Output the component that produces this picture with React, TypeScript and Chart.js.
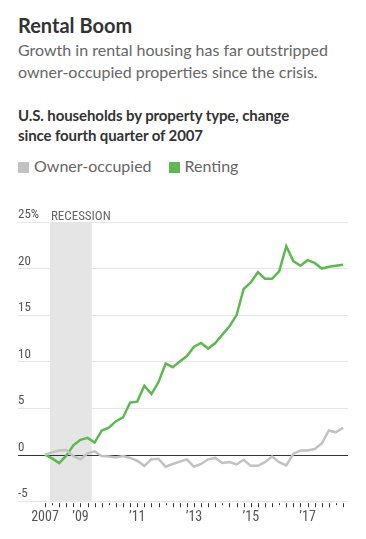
import React, { useEffect, useRef } from "react";
import { Chart, registerables } from "chart.js";

Chart.register(...registerables);

// Quarterly data, 2007 Q4 .. 2018 Q2 (index 0 = 2007 Q4)
const QUARTERS: string[] = [
  "2007Q4",
  "2008Q1", "2008Q2", "2008Q3", "2008Q4",
  "2009Q1", "2009Q2", "2009Q3", "2009Q4",
  "2010Q1", "2010Q2", "2010Q3", "2010Q4",
  "2011Q1", "2011Q2", "2011Q3", "2011Q4",
  "2012Q1", "2012Q2", "2012Q3", "2012Q4",
  "2013Q1", "2013Q2", "2013Q3", "2013Q4",
  "2014Q1", "2014Q2", "2014Q3", "2014Q4",
  "2015Q1", "2015Q2", "2015Q3", "2015Q4",
  "2016Q1", "2016Q2", "2016Q3", "2016Q4",
  "2017Q1", "2017Q2", "2017Q3", "2017Q4",
  "2018Q1", "2018Q2",
];

const RENTING: number[] = [
  0, -0.4, -0.9, -0.1, 1.0, 1.6, 1.8, 1.3, 2.6, 2.9, 3.6, 4.0, 5.6, 5.7,
  7.4, 6.5, 7.8, 9.8, 9.4, 10.0, 10.6, 11.6, 12.0, 11.4, 12.0, 12.9, 13.8,
  15.0, 17.8, 18.5, 19.6, 18.9, 18.9, 19.7, 22.4, 20.8, 20.3, 20.9, 20.6,
  20.0, 20.2, 20.3, 20.4,
];

const OWNER: number[] = [
  0, 0.25, 0.45, 0.5, -0.15, -0.5, 0.15, 0.35, -0.15, -0.2, -0.3, -0.15,
  -0.35, -0.65, -1.2, -0.5, -0.45, -1.3, -1.0, -0.75, -0.5, -1.3, -1.0, -0.5,
  -0.35, -0.9, -0.8, -1.05, -0.55, -1.2, -1.2, -0.8, -0.2, -0.8, -1.15, 0.1,
  0.45, 0.45, 0.6, 1.2, 2.6, 2.4, 2.9,
];

// X tick labels (quarter index -> text)
const X_LABEL_INDEX: number[] = [0, 5, 13, 21, 29, 37];
const X_LABEL_TEXT: string[] = ["2007", "\u201909", "\u201911", "\u201913", "\u201915", "\u201917"];

const Y_TICKS: number[] = [-5, 0, 5, 10, 15, 20, 25];

// Recession Dec 2007 - Jun 2009, in quarter-index units
const RECESSION_START = 0.7;
const RECESSION_END = 6.6;

const GREEN = "#5cb94f";
const GREY = "#c2c2c2";
const NARROW = "'Liberation Sans Narrow', 'Roboto Condensed', 'Arial Narrow', sans-serif";
const SANS = "Lato, 'Noto Sans', sans-serif";

const overlayPlugin = {
  id: "overlay",
  beforeDatasetsDraw(chart: any) {
    const { ctx, chartArea, scales } = chart;
    const x = scales.x;
    const y = scales.y;
    ctx.save();
    // recession shading
    const x0 = x.getPixelForValue(RECESSION_START);
    const x1 = x.getPixelForValue(RECESSION_END);
    ctx.fillStyle = "#e5e5e5";
    ctx.fillRect(x0, chartArea.top, x1 - x0, chartArea.bottom - chartArea.top);
    // label
    ctx.fillStyle = "#666";
    ctx.font = `13px ${NARROW}`;
    ctx.textAlign = "left";
    ctx.textBaseline = "alphabetic";
    ctx.fillText("RECESSION", x0 + 1, chartArea.top - 2);
    // zero line
    const y0 = Math.round(y.getPixelForValue(0)) + 0.5;
    ctx.strokeStyle = "#333";
    ctx.lineWidth = 1;
    ctx.beginPath();
    ctx.moveTo(chartArea.left, y0);
    ctx.lineTo(chartArea.right, y0);
    ctx.stroke();
    ctx.restore();
  },
  afterDraw(chart: any) {
    const { ctx, chartArea, scales } = chart;
    const x = scales.x;
    ctx.save();
    ctx.strokeStyle = "#333";
    ctx.lineWidth = 1;
    for (let i = 0; i < QUARTERS.length; i++) {
      const px = Math.round(x.getPixelForValue(i)) + 0.5;
      const short = i % 8 === 1;
      ctx.beginPath();
      ctx.moveTo(px, chartArea.bottom + 2);
      ctx.lineTo(px, chartArea.bottom + (short ? 4 : 6));
      ctx.stroke();
    }
    ctx.restore();
  },
};

function ChartCanvas() {
  const ref = useRef<HTMLCanvasElement | null>(null);
  useEffect(() => {
    if (!ref.current) return;
    const chart = new Chart(ref.current, {
      type: "line",
      data: {
        datasets: [
          {
            label: "Owner-occupied",
            data: OWNER.map((v, i) => ({ x: i, y: v })),
            borderColor: GREY,
            borderWidth: 2.5,
            pointRadius: 0,
            tension: 0,
          },
          {
            label: "Renting",
            data: RENTING.map((v, i) => ({ x: i, y: v })),
            borderColor: GREEN,
            borderWidth: 2.5,
            pointRadius: 0,
            tension: 0,
          },
        ],
      },
      options: {
        animation: false,
        responsive: false,
        maintainAspectRatio: false,
        layout: { padding: { left: 10, right: 10, top: 32, bottom: 0 } },
        plugins: {
          legend: { display: false },
          tooltip: { enabled: false },
          title: { display: false },
        },
        scales: {
          x: {
            type: "linear",
            min: -3.8,
            max: 42.7,
            grid: { display: false },
            border: { display: false },
            afterBuildTicks: (axis: any) => {
              axis.ticks = X_LABEL_INDEX.map((v) => ({ value: v }));
            },
            ticks: {
              autoSkip: false,
              maxRotation: 0,
              padding: 0,
              color: "#555",
              font: { family: NARROW, size: 14 },
              callback: (value: any) => {
                const k = X_LABEL_INDEX.indexOf(Number(value));
                return k >= 0 ? X_LABEL_TEXT[k] : "";
              },
            },
          },
          y: {
            min: -5,
            max: 25,
            afterBuildTicks: (axis: any) => {
              axis.ticks = Y_TICKS.map((v) => ({ value: v }));
            },
            grid: {
              drawTicks: false,
              color: (c: any) => (c.tick && c.tick.value === 0 ? "rgba(0,0,0,0)" : "#e6e6e6"),
              lineWidth: 1,
            },
            border: { display: false },
            ticks: {
              mirror: true,
              padding: 0,
              labelOffset: -7,
              color: "#555",
              font: { family: NARROW, size: 13 },
              callback: (value: any) => (Number(value) === 25 ? "25%" : String(value)),
            },
          },
        },
      },
      plugins: [overlayPlugin],
    });
    return () => chart.destroy();
  }, []);
  return (
    <canvas
      ref={ref}
      width={350}
      height={336}
      style={{ position: "absolute", left: 0, top: 182, width: 350, height: 336 }}
    />
  );
}

export default function App() {
  const text = (
    top: number,
    size: number,
    weight: number,
    color: string,
    lh: number,
    content: React.ReactNode,
    ls = 0
  ) => (
    <div
      style={{
        position: "absolute",
        left: 10,
        top,
        fontFamily: SANS,
        fontSize: size,
        fontWeight: weight,
        color,
        lineHeight: `${lh}px`,
        letterSpacing: ls ? `${ls}px` : undefined,
        whiteSpace: "nowrap",
      }}
    >
      {content}
    </div>
  );
  const sq = (c: string) => (
    <span
      style={{
        display: "inline-block",
        width: 11,
        height: 11,
        background: c,
        marginRight: 5,
        verticalAlign: "-1px",
      }}
    />
  );
  return (
    <div style={{ position: "relative", width: 350, height: 531 }}>
      {text(5, 20, 700, "#333", 24, "Rental Boom")}
      {text(
        31,
        16,
        400,
        "#666",
        22,
        <>
          Growth in rental housing has far outstripped
          <br />
          owner-occupied properties since the crisis.
        </>
      )}
      {text(
        97,
        15,
        700,
        "#333",
        20,
        <>
          U.S. households by property type, change
          <br />
          since fourth quarter of 2007
        </>,
        -0.1
      )}
      {text(
        148,
        16,
        400,
        "#666",
        20,
        <>
          <span>{sq(GREY)}Owner-occupied</span>
          <span style={{ marginLeft: 17 }}>{sq(GREEN)}Renting</span>
        </>
      )}
      <ChartCanvas />
    </div>
  );
}
